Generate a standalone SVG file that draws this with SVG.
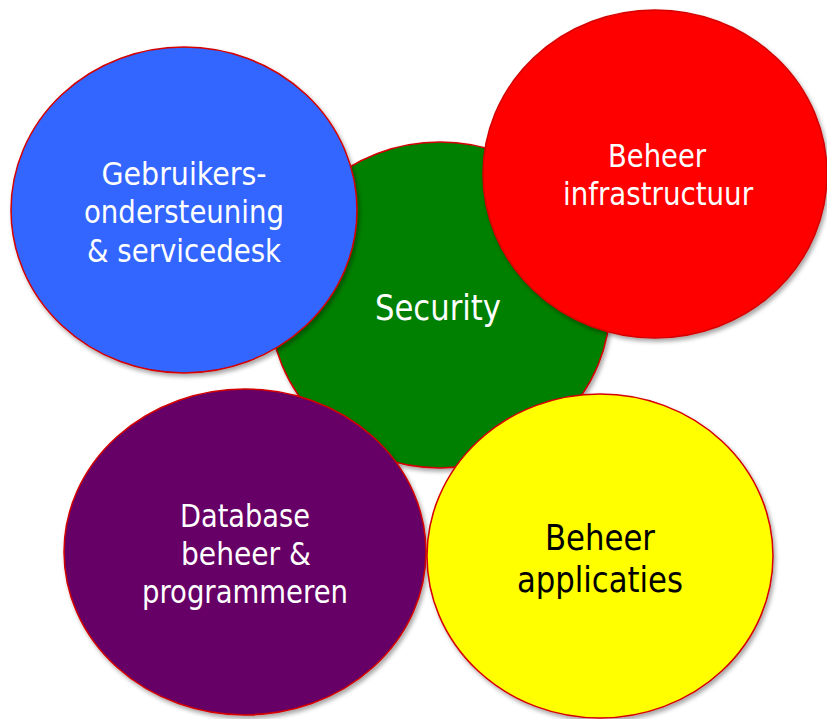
<svg xmlns="http://www.w3.org/2000/svg" width="827" height="719" viewBox="0 0 827 719">
<defs>
<filter id="sh" x="-10%" y="-10%" width="125%" height="125%">
<feDropShadow dx="2" dy="3" stdDeviation="2" flood-color="#000" flood-opacity="0.35"/>
</filter>
<style>
.c{stroke:#d40000;stroke-width:1.5;filter:url(#sh)}
.t{font-family:"DejaVu Sans Condensed","DejaVu Sans",sans-serif;text-anchor:middle;fill:#fff}
.s32{font-size:32px}
.s36{font-size:36px}
.dk{fill:#000}
</style>
</defs>
<rect width="827" height="719" fill="#fff"/>
<g id="security">
<ellipse class="c" cx="440" cy="305" rx="170" ry="163" fill="#008000"/>
<text class="t s36" x="438" y="320" textLength="126" lengthAdjust="spacingAndGlyphs">Security</text>
</g>
<g id="gebruikers">
<ellipse class="c" cx="184" cy="210" rx="173" ry="163" fill="#3366ff"/>
<text class="t s32" x="184" y="185" textLength="165" lengthAdjust="spacingAndGlyphs">Gebruikers-</text>
<text class="t s32" x="184" y="223" textLength="200" lengthAdjust="spacingAndGlyphs">ondersteuning</text>
<text class="t s32" x="184" y="262" textLength="194" lengthAdjust="spacingAndGlyphs">&amp; servicedesk</text>
</g>
<g id="infrastructuur">
<ellipse class="c" cx="655" cy="174" rx="172" ry="164" fill="#ff0000"/>
<text class="t s32" x="657" y="167" textLength="98" lengthAdjust="spacingAndGlyphs">Beheer</text>
<text class="t s32" x="658" y="205" textLength="190" lengthAdjust="spacingAndGlyphs">infrastructuur</text>
</g>
<g id="database">
<ellipse class="c" cx="245" cy="552" rx="181" ry="163" fill="#660066"/>
<text class="t s32" x="245" y="527" textLength="130" lengthAdjust="spacingAndGlyphs">Database</text>
<text class="t s32" x="246" y="565" textLength="130" lengthAdjust="spacingAndGlyphs">beheer &amp;</text>
<text class="t s32" x="245" y="603" textLength="206" lengthAdjust="spacingAndGlyphs">programmeren</text>
</g>
<g id="applicaties">
<ellipse class="c" cx="600" cy="556" rx="173" ry="162" fill="#ffff00"/>
<text class="t s36 dk" x="600" y="550" textLength="110" lengthAdjust="spacingAndGlyphs">Beheer</text>
<text class="t s36 dk" x="600" y="592" textLength="166" lengthAdjust="spacingAndGlyphs">applicaties</text>
</g>
<g id="connectors"/>
</svg>
